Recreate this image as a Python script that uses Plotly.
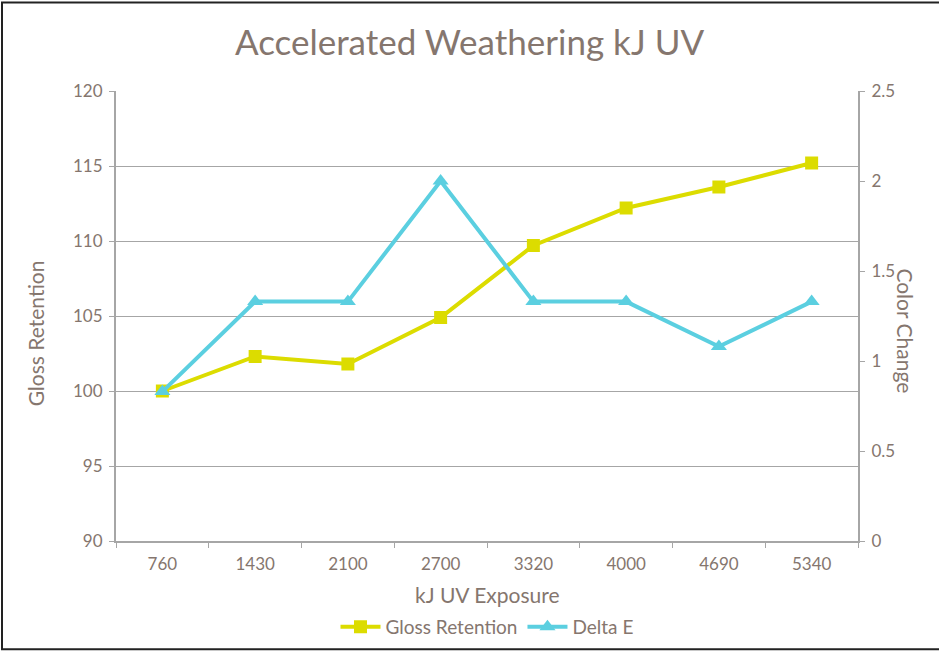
import plotly.graph_objects as go

categories = ["760", "1430", "2100", "2700", "3320", "4000", "4690", "5340"]
gloss_retention = [100.0, 102.3, 101.8, 104.9, 109.7, 112.2, 113.6, 115.2]
delta_e = [0.83, 1.33, 1.33, 2.0, 1.33, 1.33, 1.08, 1.33]

TXT = "#85766e"
AX = "#a6a6a6"
FONT = "Lato"

# rendering viewport is slightly taller than the target picture; map target px -> figure px
W, H = 939, 658
K = H / 652.0

def Y(y):
    return y * K

L, R = 116, 81
T = round(Y(90))
B = H - round(Y(541))
pw, ph = W - L - R, H - T - B

def px(x):
    return (x - L) / pw

def py(y):
    return (H - B - Y(y)) / ph

fig = go.Figure()
fig.add_trace(go.Scatter(
    x=categories, y=gloss_retention, name="Gloss Retention", mode="lines+markers",
    line=dict(color="#dcdc00", width=4),
    marker=dict(symbol="square", size=13, color="#dcdc00"),
))
fig.add_trace(go.Scatter(
    x=categories, y=delta_e, name="Delta E", mode="lines+markers", yaxis="y2",
    line=dict(color="#5bcfe0", width=4),
    marker=dict(symbol="triangle-up", size=14, color="#5bcfe0"),
))

fig.update_layout(
    width=W, height=H, autosize=False,
    margin=dict(l=L, r=R, t=T, b=B),
    paper_bgcolor="white", plot_bgcolor="white",
    font=dict(family=FONT, color=TXT, size=17),
    title=dict(text="Accelerated Weathering kJ UV", x=0.5, xanchor="center",
               y=1 - Y(42) / H, yanchor="middle",
               font=dict(size=35, color=TXT, family=FONT)),
    showlegend=True,
    legend=dict(orientation="h", x=0.5, xanchor="center", y=py(627), yanchor="middle",
                font=dict(size=19, color=TXT), itemwidth=40, tracegroupgap=0),
    xaxis=dict(
        type="category", range=[-0.5, 7.5], showgrid=False,
        showline=True, linecolor=AX, linewidth=2,
        ticks="outside", tickson="boundaries", ticklen=5, tickcolor=AX,
        tickfont=dict(size=17, color=TXT), zeroline=False, ticklabelstandoff=7,
    ),
    yaxis=dict(
        range=[90, 120], dtick=5, showgrid=True, gridcolor=AX, gridwidth=1,
        showline=True, linecolor=AX, linewidth=2,
        ticks="outside", ticklen=5, tickcolor=AX,
        tickfont=dict(size=17, color=TXT), zeroline=False, ticklabelstandoff=3,
    ),
    yaxis2=dict(
        range=[0, 2.5], dtick=0.5, overlaying="y", side="right", showgrid=False,
        showline=True, linecolor=AX, linewidth=2,
        ticks="outside", ticklen=5, tickcolor=AX,
        tickfont=dict(size=17, color=TXT), zeroline=False, ticklabelstandoff=3,
    ),
)

fig.add_annotation(text="Gloss Retention", xref="paper", yref="paper",
                   x=px(35), y=py(333), textangle=-90, showarrow=False,
                   font=dict(size=21, color=TXT), xanchor="center", yanchor="middle")
fig.add_annotation(text="Color Change", xref="paper", yref="paper",
                   x=px(906), y=py(330), textangle=90, showarrow=False,
                   font=dict(size=21, color=TXT), xanchor="center", yanchor="middle")
fig.add_annotation(text="kJ UV Exposure", xref="paper", yref="paper",
                   x=0.5, y=py(595), showarrow=False,
                   font=dict(size=21, color=TXT), xanchor="center", yanchor="middle")

fig.add_shape(type="rect", xref="paper", yref="paper",
              x0=px(2), x1=px(970), y0=py(649.5), y1=py(1.5),
              line=dict(color="#222222", width=2), fillcolor="rgba(0,0,0,0)", layer="below")

fig.write_html("out.html",
               config={"displayModeBar": False, "responsive": False},
               post_script="document.body.style.margin='0';document.body.style.overflow='hidden';")
